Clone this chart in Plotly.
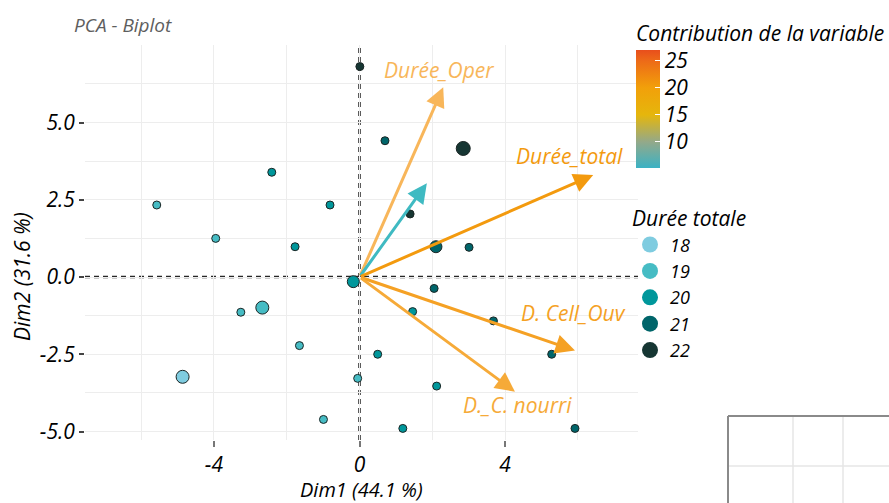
import plotly.graph_objects as go

# ---------------- data ----------------
ind_x = [0.01, 0.70, -2.41, -5.57, -0.81, -3.95, -1.77, 1.39, 2.85, 2.10, 3.01, -0.17, 2.05,
         1.46, 3.68, 5.28, -1.65, 0.50, -0.05, 2.12, -0.99, 1.19, 5.92, -3.26, -2.67, -4.86]
ind_y = [6.81, 4.41, 3.39, 2.33, 2.33, 1.25, 0.98, 2.04, 4.16, 0.98, 0.96, -0.15, -0.37,
         -1.12, -1.42, -2.50, -2.22, -2.50, -3.28, -3.53, -4.61, -4.90, -4.90, -1.14, -0.99, -3.23]
ind_group = [22, 21, 20, 19, 20, 19, 20, 22, 22, 21, 21, 20, 21,
             20, 21, 21, 19, 20, 19, 20, 19, 20, 21, 19, 19, 18]
ind_size = [8, 8, 8, 8, 8, 8, 8, 8, 14, 12, 8, 12, 8,
            8, 8, 8, 8, 8, 8, 8, 8, 8, 8, 8, 13, 13]

groups = [18, 19, 20, 21, 22]
group_colors = ["#7FCCE0", "#46BCC4", "#00979B", "#00656A", "#163633"]

var_names = ["Durée_Oper", "", "Durée_total", "D. Cell_Ouv", "D._C. nourri"]
var_x = [2.30, 1.85, 6.42, 5.92, 4.27]
var_y = [6.14, 3.03, 3.30, -2.38, -3.71]
var_label_x = [2.19, None, 5.78, 5.87, 4.34]
var_label_y = [6.70, None, 3.92, -1.16, -4.14]
var_colors = ["#F8B65A", "#3FBAC2", "#F39A0E", "#F5A124", "#F6AA38"]

contrib_range = [5.2, 26.9]
contrib_ticks = [10, 15, 20, 25]

FONT = "Open Sans"
FS = 21

# panel geometry (pixels)
L, R, T, B = 85, 638, 45, 440
W, H = R - L, B - T

def px_x(p):
    return (p - L) / W

def px_y(p):
    return (B - p) / H

fig = go.Figure()

# individuals, one trace per group (no legend)
for g, c in zip(groups, group_colors):
    xs = [x for x, gg in zip(ind_x, ind_group) if gg == g]
    ys = [y for y, gg in zip(ind_y, ind_group) if gg == g]
    ss = [s for s, gg in zip(ind_size, ind_group) if gg == g]
    fig.add_trace(go.Scatter(
        x=xs, y=ys, mode="markers", showlegend=False, hoverinfo="skip",
        marker=dict(color=c, size=ss, opacity=1, line=dict(color="#1B2625", width=1)),
    ))

# legend entries
for g, c in zip(groups, group_colors):
    fig.add_trace(go.Scatter(
        x=[None], y=[None], mode="markers", name=str(g),
        marker=dict(color=c, size=17, opacity=1, line=dict(width=0)),
    ))

# colorbar
colorscale = [
    [0.0, "#3BB2C4"],
    [0.22, "#93A98A"],
    [0.45, "#E5B60C"],
    [0.68, "#F2A00A"],
    [0.91, "#ED6A18"],
    [1.0, "#E84E1C"],
]
fig.add_trace(go.Scatter(
    x=[None], y=[None], mode="markers", showlegend=False,
    marker=dict(
        color=contrib_range, cmin=contrib_range[0], cmax=contrib_range[1],
        colorscale=colorscale, showscale=True,
        colorbar=dict(
            x=px_x(636), xanchor="left", xpad=0,
            y=px_y(50), yanchor="top", ypad=0,
            lenmode="pixels", len=118, thickness=24, outlinewidth=0,
            tickvals=contrib_ticks, ticks="inside", tickcolor="white", ticklen=5,
            tickfont=dict(family=FONT, size=FS, color="black", style="italic"),
        ),
    ),
))

annotations = []
# variable arrows
for name, vx, vy, lx, ly, col in zip(var_names, var_x, var_y, var_label_x, var_label_y, var_colors):
    annotations.append(dict(
        x=vx, y=vy, ax=0, ay=0, xref="x", yref="y", axref="x", ayref="y",
        text="", showarrow=True, arrowhead=2, arrowsize=1.3, arrowwidth=3,
        arrowcolor=col, standoff=0, startstandoff=0,
    ))
    if name:
        annotations.append(dict(
            x=lx, y=ly, xref="x", yref="y", text=name, showarrow=False,
            font=dict(family=FONT, size=FS, color=col, style="italic"),
        ))

annotations += [
    dict(x=px_x(72), y=px_y(25), xref="paper", yref="paper",
         xanchor="left", yanchor="middle", text="PCA - Biplot", showarrow=False,
         font=dict(family=FONT, size=19, color="#5E5E5E", style="italic")),
    dict(x=px_x(361), y=px_y(489), xref="paper", yref="paper",
         xanchor="center", yanchor="middle", text="Dim1 (44.1 %)", showarrow=False,
         font=dict(family=FONT, size=20, color="black", style="italic")),
    dict(x=px_x(22), y=px_y(277), xref="paper", yref="paper",
         xanchor="center", yanchor="middle", text="Dim2 (31.6 %)", showarrow=False,
         textangle=-90,
         font=dict(family=FONT, size=FS, color="black", style="italic")),
    dict(x=px_x(634), y=px_y(33), xref="paper", yref="paper",
         xanchor="left", yanchor="middle", text="Contribution de la variable", showarrow=False,
         font=dict(family=FONT, size=FS, color="black", style="italic")),
]

shapes = [
    dict(type="line", xref="x", yref="paper", x0=0, x1=0, y0=0, y1=1,
         line=dict(color="#262626", width=2.5, dash="5px,4px"), layer="below"),
    dict(type="line", xref="paper", yref="y", x0=0, x1=1, y0=0, y1=0,
         line=dict(color="#262626", width=2.5, dash="5px,4px"), layer="below"),
    # fragment of a neighbouring panel (bottom right)
    dict(type="line", xref="paper", yref="paper", x0=px_x(793), x1=px_x(793), y0=px_y(417), y1=px_y(503),
         line=dict(color="#E6E6E6", width=1.5)),
    dict(type="line", xref="paper", yref="paper", x0=px_x(843), x1=px_x(843), y0=px_y(417), y1=px_y(503),
         line=dict(color="#E6E6E6", width=1.5)),
    dict(type="line", xref="paper", yref="paper", x0=px_x(729), x1=px_x(889), y0=px_y(466), y1=px_y(466),
         line=dict(color="#E6E6E6", width=1.5)),
    dict(type="line", xref="paper", yref="paper", x0=px_x(728), x1=px_x(889), y0=px_y(416), y1=px_y(416),
         line=dict(color="#8A8A8A", width=2)),
    dict(type="line", xref="paper", yref="paper", x0=px_x(728), x1=px_x(728), y0=px_y(416), y1=px_y(503),
         line=dict(color="#8A8A8A", width=2)),
]

tickfont = dict(family=FONT, size=FS, color="black", style="italic")

fig.update_layout(
    width=889, height=503, autosize=False,
    margin=dict(l=L, r=889 - R, t=T, b=503 - B),
    paper_bgcolor="white", plot_bgcolor="white",
    font=dict(family=FONT),
    showlegend=True,
    legend=dict(
        x=px_x(630), xanchor="left", y=px_y(199), yanchor="top",
        title=dict(text="Durée totale", font=dict(family=FONT, size=FS, color="black", style="italic")),
        font=dict(family=FONT, size=18, color="black", style="italic"),
        itemsizing="trace", tracegroupgap=0, bgcolor="rgba(0,0,0,0)",
    ),
    xaxis=dict(
        range=[(L - 359.5) / 36.4, (R - 359.5) / 36.4], tickvals=[-4, 0, 4], ticktext=["-4", "0", "4"],
        showgrid=True, gridcolor="#EDEDED", gridwidth=1, zeroline=False,
        minor=dict(tick0=0, dtick=2, showgrid=True, gridcolor="#EDEDED", gridwidth=1),
        ticks="outside", ticklen=6, tickcolor="#777", tickwidth=1.5,
        tickfont=tickfont, showline=False,
    ),
    yaxis=dict(
        range=[(277 - B) / 30.9, (277 - T) / 30.9], tickvals=[-5, -2.5, 0, 2.5, 5],
        ticktext=["-5.0", "-2.5", "0.0", "2.5", "5.0"],
        showgrid=True, gridcolor="#EDEDED", gridwidth=1, zeroline=False,
        minor=dict(tick0=0, dtick=1.25, showgrid=True, gridcolor="#EDEDED", gridwidth=1),
        ticks="outside", ticklen=5, tickcolor="#444", tickwidth=1.5,
        tickfont=tickfont, showline=False,
    ),
    annotations=annotations,
    shapes=shapes,
)

fig.write_html("out.html")
